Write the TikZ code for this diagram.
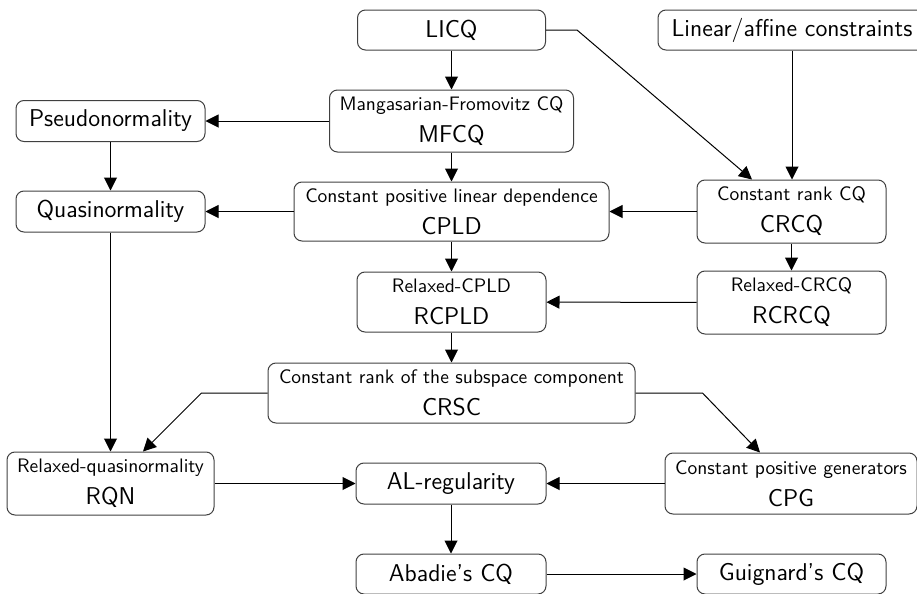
\documentclass[tikz,border=0pt]{standalone}
\usepackage{fontspec}
\usetikzlibrary{arrows.meta,calc}
\newcommand\BigTxt{\fontsize{12.15}{16}\selectfont}
\newcommand\SmallTxt{\fontsize{9.75}{12}\selectfont}
\begin{document}
\begin{tikzpicture}[x=0.5pt,y=-0.5pt,
  box/.style={draw=black!75, line width=0.5pt, rounded corners=4pt, align=center,
    inner sep=0pt, font=\sffamily\BigTxt},
  arr/.style={-{Triangle[length=6.5pt,width=6.5pt]}, line width=0.5pt, black},
  ]
\useasboundingbox (0,0) rectangle (917,594);
% nodes
\node[box, minimum width=94pt, minimum height=20pt] (licq) at (451.5,30) {LICQ};
\node[box, minimum width=134pt, minimum height=20pt] (lin) at (792,30) {Linear/affine constraints};
\node[box, minimum width=122pt, minimum height=31pt] (mfcq) at (451.5,121) {{\SmallTxt Mangasarian-Fromovitz CQ}\\MFCQ};
\node[box, minimum width=94.5pt, minimum height=20.5pt] (pseudo) at (110.5,121) {Pseudonormality};
\node[box, minimum width=94.5pt, minimum height=20.5pt] (quasi) at (110.5,211.5) {Quasinormality};
\node[box, minimum width=157.5pt, minimum height=29.5pt] (cpld) at (451.5,211.5) {{\SmallTxt Constant positive linear dependence}\\CPLD};
\node[box, minimum width=94.5pt, minimum height=31.5pt] (crcq) at (791.5,211.5) {{\SmallTxt Constant rank CQ}\\CRCQ};
\node[box, minimum width=94.5pt, minimum height=30pt] (rcpld) at (451.5,302) {{\SmallTxt Relaxed-CPLD}\\RCPLD};
\node[box, minimum width=94.5pt, minimum height=31.5pt] (rcrcq) at (791.5,302.5) {{\SmallTxt Relaxed-CRCQ}\\RCRCQ};
\node[box, minimum width=183.5pt, minimum height=30pt] (crsc) at (451.5,393) {{\SmallTxt Constant rank of the subspace component}\\CRSC};
\node[box, minimum width=103.5pt, minimum height=31.5pt] (rqn) at (110.5,483.5) {{\SmallTxt Relaxed-quasinormality}\\RQN};
\node[box, minimum width=95pt, minimum height=20.5pt] (al) at (451,483.5) {AL-regularity};
\node[box, minimum width=126pt, minimum height=30.5pt] (cpg) at (791,483.5) {{\SmallTxt Constant positive generators}\\CPG};
\node[box, minimum width=95pt, minimum height=20pt] (abadie) at (451,574) {Abadie's CQ};
\node[box, minimum width=94.5pt, minimum height=20pt] (guig) at (791.5,574) {Guignard's CQ};
% helper coordinates
\coordinate (k1) at ($(licq.east)+(31,0)$);
\coordinate (t1) at ($(crcq.north)+(-39.5,0)$);
\coordinate (k2) at ($(crsc.west)+(-66,0)$);
\coordinate (t2) at ($(rqn.north)+(32.5,0)$);
\coordinate (k3) at ($(crsc.east)+(67,0)$);
\coordinate (t3) at ($(cpg.north)+(-31,0)$);
% connectors
\draw[arr] (licq) -- (mfcq);
\draw[arr] (mfcq) -- (pseudo);
\draw[arr] (pseudo) -- (quasi);
\draw[arr] (mfcq) -- (cpld);
\draw[arr] (cpld) -- (quasi);
\draw[arr] (licq.east) -- (k1) -- (t1);
\draw[arr] (lin.south) -- (lin.south |- crcq.north);
\draw[arr] (crcq) -- (cpld);
\draw[arr] (crcq) -- (rcrcq);
\draw[arr] (cpld) -- (rcpld);
\draw[arr] (rcrcq) -- (rcpld);
\draw[arr] (rcpld) -- (crsc);
\draw[arr] (quasi) -- (rqn);
\draw[arr] (crsc.west) -- (k2) -- (t2);
\draw[arr] (crsc.east) -- (k3) -- (t3);
\draw[arr] (rqn) -- (al);
\draw[arr] (cpg) -- (al);
\draw[arr] (al) -- (abadie);
\draw[arr] (abadie) -- (guig);
\end{tikzpicture}
\end{document}
